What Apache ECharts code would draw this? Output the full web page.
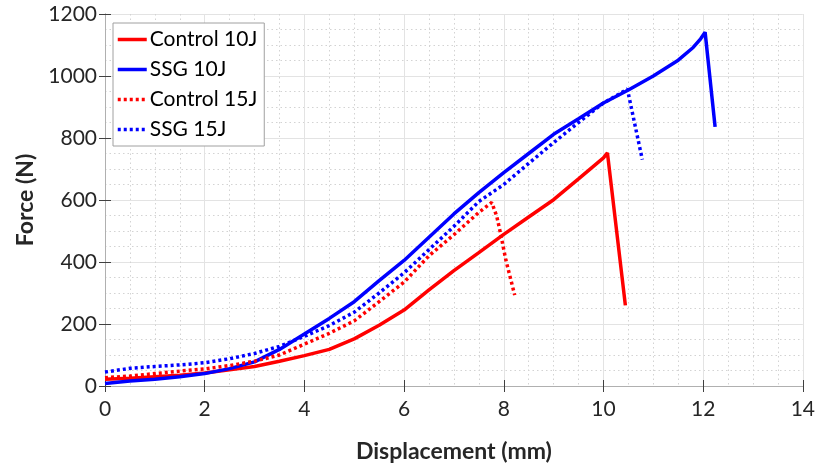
<!DOCTYPE html>
<html>
<head>
<meta charset="utf-8">
<script src="https://cdn.jsdelivr.net/npm/echarts@6/dist/echarts.min.js"></script>
<style>html,body{margin:0;padding:0;background:#fff;}#c{width:818px;height:468px;}</style>
</head>
<body>
<div id="c"></div>
<script>
const seriesNames = ['Control 10J', 'SSG 10J', 'Control 15J', 'SSG 15J'];
const xTickLabels = [0, 2, 4, 6, 8, 10, 12, 14];
const yTickLabels = [0, 200, 400, 600, 800, 1000, 1200];

const control10X = [0, 0.5, 1, 1.5, 2, 2.5, 3, 3.5, 4, 4.5, 5, 5.5, 6, 6.5, 7, 7.5, 8, 8.5, 9, 9.5, 10, 10.08, 10.44];
const control10F = [22, 25, 30, 35, 42, 52, 63, 80, 98, 118, 152, 196, 245, 310, 372, 430, 489, 545, 601, 668, 736, 752, 260];

const ssg10X = [0, 0.5, 1, 1.5, 2, 2.5, 3, 3.5, 4, 4.5, 5, 5.5, 6, 6.5, 7, 7.5, 8, 8.5, 9, 9.5, 10, 10.5, 11, 11.5, 11.8, 11.95, 12.04, 12.24];
const ssg10F = [8, 16, 22, 30, 40, 56, 78, 118, 168, 218, 272, 340, 405, 480, 555, 624, 688, 750, 812, 862, 913, 955, 1000, 1051, 1092, 1120, 1141, 836];

const control15X = [0, 0.5, 1, 1.5, 2, 2.5, 3, 3.5, 4, 4.5, 5, 5.5, 6, 6.5, 7, 7.5, 7.76, 7.86, 7.94, 8.04, 8.14, 8.22];
const control15F = [27, 32, 40, 48, 55, 66, 80, 100, 135, 170, 210, 272, 335, 420, 488, 560, 592, 547, 489, 408, 344, 293];

const ssg15X = [0, 0.5, 1, 1.5, 2, 2.5, 3, 3.5, 4, 4.5, 5, 5.5, 6, 6.5, 7, 7.5, 8, 8.5, 9, 9.5, 10, 10.3, 10.48, 10.78];
const ssg15F = [45, 57, 63, 68, 75, 88, 105, 128, 160, 195, 238, 300, 365, 440, 515, 595, 650, 718, 785, 850, 913, 940, 958, 730];

function pairs(xs, ys) { return xs.map((x, i) => [x, ys[i]]); }

const FONT = 'Lato';
const chart = echarts.init(document.getElementById('c'), null, {renderer: 'canvas'});

const gridLine = {show: true, lineStyle: {color: '#e3e3e3', width: 1}};
const minorLine = {show: true, lineStyle: {color: '#d3d3d3', width: 1, type: [1.5, 3]}};
const axisLineStyle = {show: true, lineStyle: {color: '#b0b0b0', width: 1}};
const tickStyle = {show: true, inside: true, length: 6, lineStyle: {color: '#404040', width: 1}};

function lineSeries(name, data, color, dashed) {
  return {
    name: name, type: 'line', data: data, showSymbol: false, symbol: 'none',
    smooth: false, animation: false,
    lineStyle: {color: color, width: 3.5, type: dashed ? [3, 3] : 'solid'},
    itemStyle: {color: color}
  };
}

chart.setOption({
  animation: false,
  backgroundColor: '#fff',
  grid: {left: 105, right: 14, top: 14, bottom: 81, containLabel: false},
  legend: {
    show: true, orient: 'vertical', left: 113, top: 23,
    data: seriesNames,
    backgroundColor: '#fff', borderColor: '#a0a0a0', borderWidth: 1,
    padding: [6, 7, 6, 3], itemGap: 9, itemWidth: 29, itemHeight: 21,
    itemStyle: {opacity: 0},
    lineStyle: {width: 3.5},
    textStyle: {fontFamily: FONT, fontSize: 21, color: '#000', padding: [0, 0, 0, -2]}
  },
  xAxis: [{
    type: 'value', min: 0, max: 14, interval: 2,
    name: 'Displacement (mm)', nameLocation: 'middle', nameGap: 54,
    nameTextStyle: {fontFamily: FONT, fontSize: 23, fontWeight: 'bold', color: '#262626'},
    axisLine: axisLineStyle, axisTick: tickStyle,
    axisLabel: {fontFamily: FONT, fontSize: 21, color: '#262626', margin: 13,
      formatter: v => xTickLabels.indexOf(v) >= 0 ? String(v) : ''},
    splitLine: gridLine,
    minorTick: {show: false, splitNumber: 4},
    minorSplitLine: minorLine
  }, {
    type: 'value', min: 0, max: 14, interval: 2, position: 'top',
    axisLine: axisLineStyle, axisTick: tickStyle, axisLabel: {show: false}, splitLine: {show: false}
  }],
  yAxis: [{
    type: 'value', min: 0, max: 1200, interval: 200,
    name: 'Force (N)', nameLocation: 'middle', nameGap: 62,
    nameTextStyle: {fontFamily: FONT, fontSize: 23, fontWeight: 'bold', color: '#262626'},
    axisLine: axisLineStyle, axisTick: tickStyle,
    axisLabel: {fontFamily: FONT, fontSize: 21, color: '#262626', margin: 8,
      formatter: v => yTickLabels.indexOf(v) >= 0 ? String(v) : ''},
    splitLine: gridLine,
    minorTick: {show: false, splitNumber: 4},
    minorSplitLine: minorLine
  }, {
    type: 'value', min: 0, max: 1200, interval: 200, position: 'right',
    axisLine: axisLineStyle, axisTick: tickStyle, axisLabel: {show: false}, splitLine: {show: false}
  }],
  series: [
    lineSeries(seriesNames[0], pairs(control10X, control10F), '#ff0000', false),
    lineSeries(seriesNames[1], pairs(ssg10X, ssg10F), '#0000ff', false),
    lineSeries(seriesNames[2], pairs(control15X, control15F), '#ff0000', true),
    lineSeries(seriesNames[3], pairs(ssg15X, ssg15F), '#0000ff', true)
  ]
});
</script>
</body>
</html>
